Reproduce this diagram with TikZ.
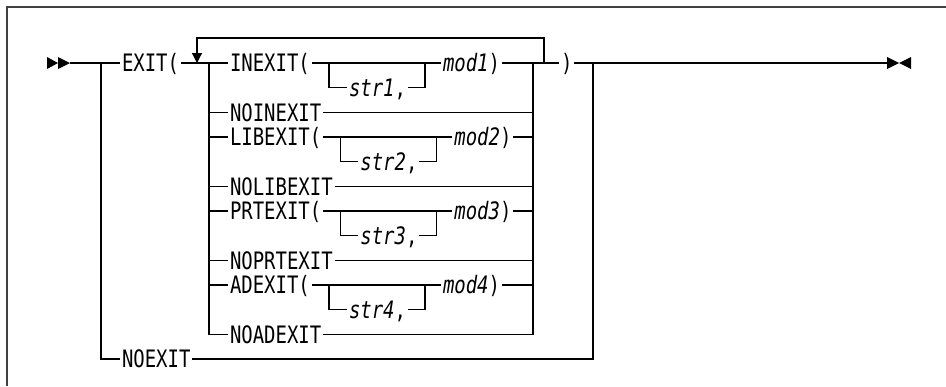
\documentclass[tikz,border=0pt]{standalone}
\usepackage{fontspec}
\setmonofont{DejaVu Sans Mono}[FakeStretch=0.79]
\usetikzlibrary{arrows.meta}

\tikzset{
  rail/.style={line width=0.6pt},
  kw/.style={font=\ttfamily\fontsize{12}{14}\selectfont,inner sep=0pt,inner xsep=0.8pt,
             text height=8.75pt,text depth=0pt,anchor=west},
}

\begin{document}
\begin{tikzpicture}[x=0.5pt,y=-0.5pt]
                \useasboundingbox (0,0) rectangle (946,386);
                \pgfmathsetmacro{\rowh}{24.67}
                \draw [line width=0.8pt,black!75] (7,386) -- (7,7) -- (946,7);
                % junctions on the main line
                \coordinate (start) at (70,63);
                \coordinate (ol) at (101,63);
                \coordinate (lpl) at (197,63);
                \coordinate (lptop) at (197,38);
                \coordinate (il) at (209,63);
                \coordinate (ir) at (533,63);
                \coordinate (lpr) at (544,63);
                \coordinate (or) at (593,63);
                \coordinate (fin) at (887,63);
                \fill (47,57) -- (58,63) -- (47,69) -- cycle;
                \fill (58,57) -- (70,63) -- (58,69) -- cycle;
                \fill (887,57) -- (899,63) -- (887,69) -- cycle;
                \fill (911,57) -- (899,63) -- (911,69) -- cycle;
                \node[kw] (ex) at (120,63) {EXIT(};
                \node[kw] (cl) at (559,63) {)};
                \node[kw] (noex) at (120,{63+12*\rowh}) {NOEXIT};
                \draw[rail] (start) -- (ol) -- (ex.west);
                \draw[rail] (ex.east) -- (il);
                \draw[rail] (ir) -- (lpr) -- (cl.west);
                \draw[rail] (cl.east) -- (or) -- (fin);
                \draw[rail] (ol) |- (noex.west);
                \draw[rail] (noex.east) -| (or);
                \draw[rail,-{Triangle[width=5pt,length=5pt]}] (lpr) -- (lpr |- lptop) -- (lptop) -- (lpl);
                % options with a str box
                \foreach \kname/\sname/\mname/\r/\dx in {INEXIT/str1/mod1/0/0,LIBEXIT/str2/mod2/3/11.4,
                                                          PRTEXIT/str3/mod3/6/11.4,ADEXIT/str4/mod4/9/0} {
                  \pgfmathsetmacro{\y}{63+\r*\rowh}
                  \node[kw] (k\r) at (228,\y) {\kname(};
                  \node[kw] (m\r) at (441+\dx,\y) {\textit{\mname})};
                  \node[kw] (s\r) at (347+\dx,\y+\rowh) {\textit{\sname},};
                  \coordinate (bl\r) at (329+\dx,\y);
                  \coordinate (br\r) at (425+\dx,\y);
                  \draw[rail] (k\r.west -| il) -- (k\r.west);
                  \draw[rail] (k\r.east) -- (m\r.west);
                  \draw[rail] (bl\r) |- (s\r.west);
                  \draw[rail] (s\r.east) -| (br\r);
                  \draw[rail] (m\r.east) -- (m\r.east -| ir);
                }
                % options without arguments
                \foreach \kname/\r in {NOINEXIT/2,NOLIBEXIT/5,NOPRTEXIT/8,NOADEXIT/11} {
                  \pgfmathsetmacro{\y}{63+\r*\rowh}
                  \node[kw] (n\r) at (228,\y) {\kname};
                  \draw[rail] (n\r.west -| il) -- (n\r.west);
                  \draw[rail] (n\r.east) -- (n\r.east -| ir);
                }
                \draw[rail] (il) |- (n11.west);
                \draw[rail] (ir) |- (n11.east);
            \end{tikzpicture}
\end{document}
